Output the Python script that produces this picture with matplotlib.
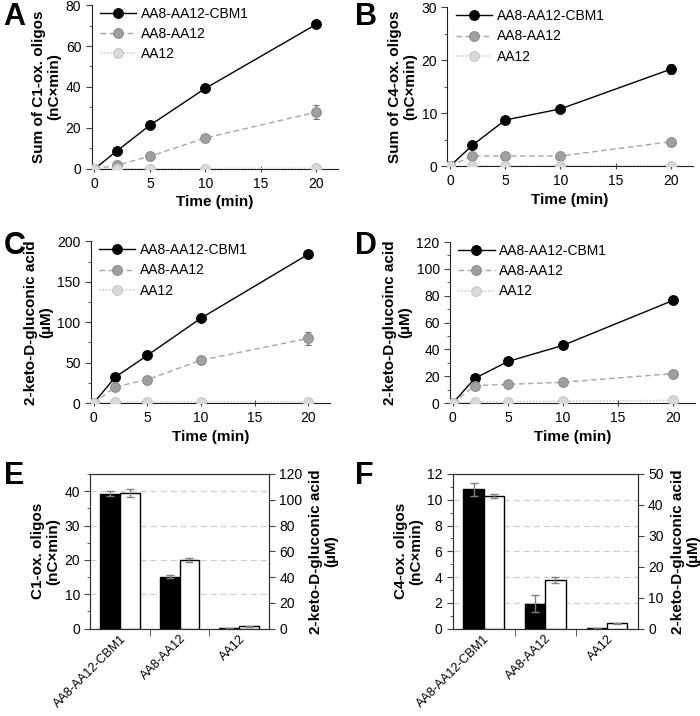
import matplotlib
matplotlib.use("Agg")
import matplotlib.pyplot as plt
from matplotlib.ticker import MultipleLocator
from matplotlib.lines import Line2D

plt.rcParams['font.family'] = ['Liberation Sans', 'DejaVu Sans']
plt.rcParams['font.size'] = 9

# ---------------- data ----------------
time_min = [0, 2, 5, 10, 20]
series_names = ["AA8-AA12-CBM1", "AA8-AA12", "AA12"]

A_cbm1 = [0, 8.7, 21.3, 39.3, 70.5]
A_cbm1_err = [0, 0.5, 0.5, 0.6, 0.8]
A_aa8aa12 = [0, 1.8, 6.2, 15.1, 27.7]
A_aa8aa12_err = [0, 0.3, 0.3, 0.5, 3.5]
A_aa12 = [0, 0.2, 0.1, 0.2, 0.3]
A_aa12_err = [0, 0, 0, 0, 0]

B_cbm1 = [0, 3.9, 8.7, 10.8, 18.3]
B_cbm1_err = [0, 0.2, 0.3, 0.3, 0.9]
B_aa8aa12 = [0, 1.9, 1.9, 1.9, 4.6]
B_aa8aa12_err = [0, 0.1, 0.1, 0.5, 0.2]
B_aa12 = [0, 0.05, 0.05, 0.05, 0.1]
B_aa12_err = [0, 0, 0, 0, 0]

C_cbm1 = [0, 32, 59, 105, 184]
C_cbm1_err = [0, 1, 1, 1.5, 2]
C_aa8aa12 = [0, 20, 29, 53, 80]
C_aa8aa12_err = [0, 1, 1, 2, 8]
C_aa12 = [0, 1.5, 1.2, 1.3, 1.5]
C_aa12_err = [0, 0, 0, 0, 0]

D_cbm1 = [0, 18.5, 31, 43, 76.5]
D_cbm1_err = [0, 1, 1, 1, 1.5]
D_aa8aa12 = [0, 13, 14, 15.5, 22]
D_aa8aa12_err = [0, 0.5, 0.5, 0.5, 0.8]
D_aa12 = [0, 1, 1, 1.5, 2]
D_aa12_err = [0, 0, 0, 0, 0]

bar_categories = ["AA8-AA12-CBM1", "AA8-AA12", "AA12"]
E_oligos = [39.3, 15.1, 0.2]
E_oligos_err = [0.8, 0.4, 0.05]
E_keto = [105.0, 53.6, 1.7]
E_keto_err = [3.0, 1.6, 0.3]

F_oligos = [10.8, 1.95, 0.05]
F_oligos_err = [0.5, 0.65, 0.02]
F_keto = [42.9, 15.6, 1.7]
F_keto_err = [0.7, 1.0, 0.1]

# ---------------- styles ----------------
styles = [
    dict(color="black", ls="-", mfc="black", mec="black", lw=1.0),
    dict(color="#a6a6a6", ls=(0, (4, 2.5)), mfc="#a0a0a0", mec="#8c8c8c", lw=1.0),
    dict(color="#cfcfcf", ls=(0, (1, 1)), mfc="#d9d9d9", mec="#c8c8c8", lw=1.2),
]

fig = plt.figure(figsize=(7.0, 7.16), dpi=100)

def line_panel(rect, data, errs, ymax, ystep, yminor, ylabel, letter, letter_xy):
    ax = fig.add_axes(rect)
    handles = []
    for d, e, st in zip(data, errs, styles):
        ax.errorbar(time_min, d, yerr=e, color=st["color"], ls=st["ls"], lw=st["lw"],
                    marker="o", ms=7, mfc=st["mfc"], mec=st["mec"], mew=0.8,
                    ecolor="#707070", elinewidth=1, capsize=2.5, zorder=3)
        handles.append(Line2D([], [], color=st["color"], ls=st["ls"], lw=st["lw"],
                              marker="o", ms=7, mfc=st["mfc"], mec=st["mec"], mew=0.8))
    ax.set_xlim(-0.25, 22)
    ax.set_ylim(0, ymax)
    ax.yaxis.set_major_locator(MultipleLocator(ystep))
    if yminor:
        ax.yaxis.set_minor_locator(MultipleLocator(yminor))
    ax.set_xticks([0, 5, 10, 15, 20])
    ax.spines["top"].set_visible(False)
    ax.spines["right"].set_visible(False)
    ax.tick_params(axis="y", direction="out", length=4, labelsize=10, color="#404040")
    ax.tick_params(axis="y", which="minor", direction="out", length=2.5, color="#404040")
    ax.tick_params(axis="x", direction="inout", length=5, labelsize=10, color="#404040")
    for s in ax.spines.values():
        s.set_color("#202020")
    ax.set_xlabel("Time (min)", fontweight="bold", fontsize=11, labelpad=3)
    ax.set_ylabel(ylabel, fontweight="bold", fontsize=11, linespacing=1.1, labelpad=3)
    ax.legend(handles, series_names, loc="upper left", frameon=False, fontsize=10,
              handlelength=2.6, handletextpad=0.35, labelspacing=0.45,
              bbox_to_anchor=(0.0, 1.04), borderaxespad=0.2)
    fig.text(letter_xy[0], letter_xy[1], letter, fontsize=22, fontweight="bold",
             ha="left", va="center")
    return ax

line_panel([0.131, 0.764, 0.352, 0.229],
           [A_cbm1, A_aa8aa12, A_aa12], [A_cbm1_err, A_aa8aa12_err, A_aa12_err],
           80, 20, 10, "Sum of C1-ox. oligos\n(nC×min)", "A", (0.005, 0.976))
line_panel([0.639, 0.768, 0.351, 0.222],
           [B_cbm1, B_aa8aa12, B_aa12], [B_cbm1_err, B_aa8aa12_err, B_aa12_err],
           30, 10, 5, "Sum of C4-ox. oligos\n(nC×min)", "B", (0.507, 0.976))
line_panel([0.130, 0.437, 0.341, 0.226],
           [C_cbm1, C_aa8aa12, C_aa12], [C_cbm1_err, C_aa8aa12_err, C_aa12_err],
           200, 50, 25, "2-keto-D-gluconic acid\n(µM)", "C", (0.005, 0.657))
line_panel([0.643, 0.437, 0.350, 0.225],
           [D_cbm1, D_aa8aa12, D_aa12], [D_cbm1_err, D_aa8aa12_err, D_aa12_err],
           120, 20, 10, "2-keto-D-glucoinc acid\n(µM)", "D", (0.507, 0.657))

def bar_panel(rect, oligos, oerr, keto, kerr, lmax, lstep, lminor, rmax, rstep,
              lylabel, letter, letter_xy):
    ax = fig.add_axes(rect)
    ax2 = ax.twinx()
    xs = list(range(len(bar_categories)))
    w = 0.33
    ax.bar([x - w / 2 for x in xs], oligos, width=w, color="black", edgecolor="black",
           lw=1, zorder=3)
    ax.errorbar([x - w / 2 for x in xs], oligos, yerr=oerr, fmt="none", ecolor="#808080",
                elinewidth=1, capsize=3, zorder=4)
    ax2.bar([x + w / 2 for x in xs], keto, width=w, color="white", edgecolor="black",
            lw=1, zorder=3)
    ax2.errorbar([x + w / 2 for x in xs], keto, yerr=kerr, fmt="none", ecolor="#808080",
                 elinewidth=1, capsize=3, zorder=4)
    ax.set_xlim(-0.5, len(xs) - 0.5)
    ax.set_ylim(0, lmax)
    ax2.set_ylim(0, rmax)
    ax.yaxis.set_major_locator(MultipleLocator(lstep))
    ax.yaxis.set_minor_locator(MultipleLocator(lminor))
    ax2.yaxis.set_major_locator(MultipleLocator(rstep))
    ax.set_xticks(xs)
    ax.set_xticklabels(bar_categories, rotation=45, ha="right", rotation_mode="anchor",
                       fontsize=9)
    ax.tick_params(axis="x", which="major", length=0, pad=3)
    ax.set_xticks([x + 0.5 for x in xs[:-1]], minor=True)
    ax.tick_params(axis="x", which="minor", length=5, direction="out", color="#404040")
    for g in range(lstep, int(lmax) + 1, lstep):
        if g < lmax:
            ax.axhline(g, color="#d0d0d0", ls=(0, (5, 3)), lw=0.9, zorder=1)
    ax.tick_params(axis="y", direction="out", length=4, labelsize=10, color="#404040")
    ax.tick_params(axis="y", which="minor", direction="out", length=2.5, color="#404040")
    ax2.tick_params(axis="y", direction="out", length=4, labelsize=10, color="#404040")
    for a in (ax, ax2):
        for s in a.spines.values():
            s.set_color("#303030")
    ax.set_ylabel(lylabel, fontweight="bold", fontsize=11, linespacing=1.1, labelpad=3)
    ax2.set_ylabel("2-keto-D-gluconic acid\n(µM)", fontweight="bold", fontsize=11,
                   linespacing=1.1, labelpad=5)
    fig.text(letter_xy[0], letter_xy[1], letter, fontsize=22, fontweight="bold",
             ha="left", va="center")

bar_panel([0.129, 0.122, 0.255, 0.216], E_oligos, E_oligos_err, E_keto, E_keto_err,
          45, 10, 5, 120, 20, "C1-ox. oligos\n(nC×min)", "E", (0.005, 0.335))
bar_panel([0.647, 0.122, 0.264, 0.216], F_oligos, F_oligos_err, F_keto, F_keto_err,
          12, 2, 1, 50, 10, "C4-ox. oligos\n(nC×min)", "F", (0.507, 0.335))

fig.savefig("out.png", dpi=100)
